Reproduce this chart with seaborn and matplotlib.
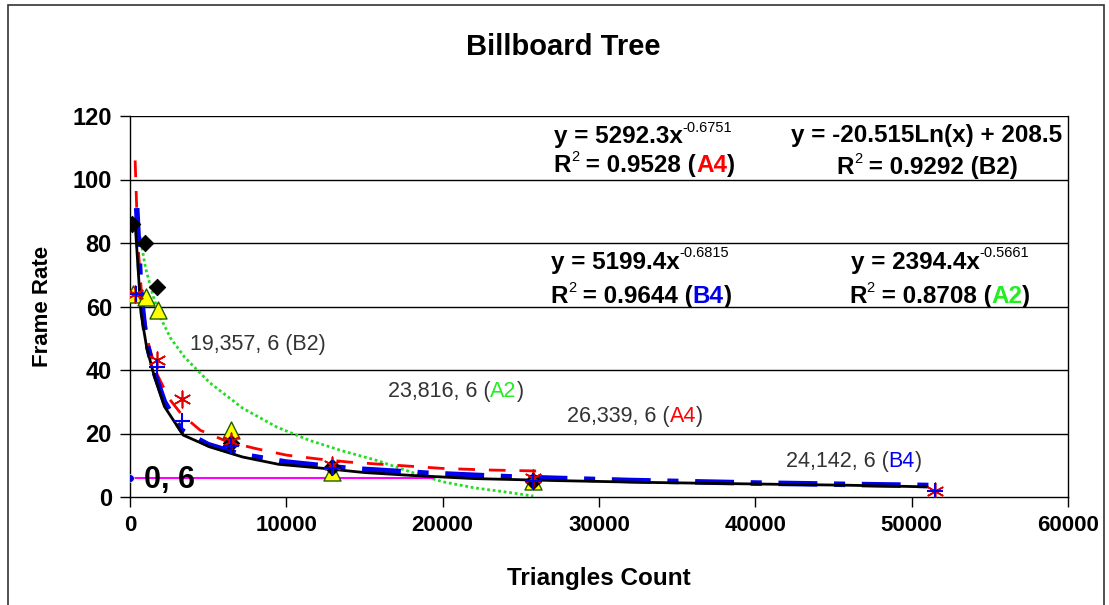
import matplotlib
matplotlib.use("Agg")
import matplotlib.pyplot as plt
import seaborn as sns
import pandas as pd
from matplotlib.patches import Rectangle

# ---------------- data ----------------
b2_x = [150, 960, 1700, 6450, 12900, 25800]
b2_y = [86, 80, 66, 17, 9.5, 5]
a2_x = [200, 1000, 1800, 6450, 12900, 25800]
a2_y = [64, 63, 59, 21, 8, 5]
a4_x = [300, 1720, 3300, 6450, 12900, 25800, 51500]
a4_y = [64, 43, 31, 17.5, 10, 6, 2]
b4_x = [400, 1720, 3300, 6450, 12900, 25800, 51500]
b4_y = [64, 41, 24, 16, 9, 5, 2]

# trend lines
fit_a4_x = [330, 500, 800, 1200, 1700, 2500, 3300, 4500, 6200, 8000, 10000, 12000,
            14000, 17000, 20000, 23000, 26000]
fit_a4_y = [106, 80, 60, 48, 39, 31, 26, 21, 17.5, 15.3, 13.2, 12, 11, 10, 9, 8.5, 8.2]
fit_b4_x = [430, 700, 1000, 1500, 2200, 3300, 5000, 7000, 10000, 14000, 19000, 25000,
            32000, 40000, 47000, 51500]
fit_b4_y = [91, 64, 50, 40, 30, 21, 16.5, 13.5, 11, 9, 7.5, 6.2, 5.2, 4.4, 3.9, 3.6]
fit_b2_x = [320, 700, 1070, 1500, 2200, 3400, 5100, 7200, 9500, 12000, 15000, 18000,
            22000, 27000, 33000, 40000, 46000, 51000]
fit_b2_y = [87, 58, 47, 39, 28.5, 19.5, 15.8, 12.6, 10.3, 9.2, 7.7, 6.8, 5.8, 5.2,
            4.6, 4.1, 3.7, 3.2]
fit_a2_x = [640, 1000, 1500, 1900, 2600, 3500, 5100, 7200, 9400, 11500, 13600, 15800,
            18000, 20000, 22000, 24000, 25800]
fit_a2_y = [82, 72, 63, 57, 50, 44, 36, 28, 22, 17.8, 14.5, 11.5, 7.8, 4.8, 2.9,
            1.6, 0.3]

thr_x = [0, 19357]
thr_y = [6, 6]

x_ticks = [0, 10000, 20000, 30000, 40000, 50000, 60000]
y_ticks = [0, 20, 40, 60, 80, 100, 120]

title = "Billboard Tree"
x_label = "Triangles Count"
y_label = "Frame Rate"

# ---------------- figure ----------------
sns.set_theme(style="white")
plt.rcParams["font.family"] = ["Liberation Sans", "DejaVu Sans"]
plt.rcParams["text.color"] = "black"
plt.rcParams["axes.labelcolor"] = "black"
plt.rcParams["xtick.color"] = "black"
plt.rcParams["ytick.color"] = "black"

W, H = 1109, 605
fig = plt.figure(figsize=(W / 100, H / 100), dpi=100)
fig.patch.set_facecolor("white")
ax = fig.add_axes([130 / W, 1 - 497 / H, (1068 - 130) / W, (497 - 116) / H])
ax.set_facecolor("white")

fig.patches.append(Rectangle((8 / W, -0.05), (1104 - 8) / W, 1.05 - 5 / H,
                             transform=fig.transFigure, fill=False,
                             edgecolor="#333333", lw=1.2, clip_on=False))

for yv in y_ticks[1:]:
    ax.axhline(yv, color="black", lw=1, zorder=0)


def line(xs, ys, **kw):
    df = pd.DataFrame({"x": xs, "y": ys})
    sns.lineplot(data=df, x="x", y="y", ax=ax, sort=False, estimator=None, **kw)


def pts(xs, ys, **kw):
    df = pd.DataFrame({"x": xs, "y": ys})
    sns.scatterplot(data=df, x="x", y="y", ax=ax, **kw)


line(fit_a2_x, fit_a2_y, color="#22dd22", lw=2, linestyle=(0, (1, 1)), zorder=2)
line(fit_a4_x, fit_a4_y, color="red", lw=2, linestyle=(0, (6, 5)), zorder=3)
line(fit_b4_x, fit_b4_y, color="#0000ee", lw=4, linestyle=(0, (7, 3, 2, 3)), zorder=3)
line(fit_b2_x, fit_b2_y, color="black", lw=2, zorder=4)
line(thr_x, thr_y, color="#ff00ff", lw=1.5, zorder=3)

pts(a2_x, a2_y, marker="^", s=150, color="#ffff00", edgecolor="#1f5c00", linewidth=1,
    zorder=5)
pts(b2_x, b2_y, marker="D", s=70, color="black", edgecolor="black", zorder=6)
pts(a4_x, a4_y, marker=(6, 2, 0), s=140, color="#e00000", linewidth=1.2, zorder=6)
pts(b4_x, b4_y, marker="+", s=140, color="#0000ee", linewidth=1.5, zorder=6)
pts([0], [6], marker="o", s=30, color="#0000cc", zorder=7)

ax.set_xlim(0, 60000)
ax.set_ylim(0, 120)
ax.set_xticks(x_ticks)
ax.set_yticks(y_ticks)
ax.set_xticklabels([str(v) for v in x_ticks], fontsize=16, fontweight="bold")
ax.set_yticklabels([str(v) for v in y_ticks], fontsize=17, fontweight="bold")
ax.tick_params(axis="both", direction="out", length=7, width=1, color="black",
               labelcolor="black", bottom=True, left=True, pad=6)
for s in ["left", "bottom", "right"]:
    ax.spines[s].set_visible(True)
    ax.spines[s].set_color("black")
    ax.spines[s].set_linewidth(1)
ax.spines["top"].set_visible(False)
ax.set_xlabel(x_label, fontsize=17.5, fontweight="bold", labelpad=22, color="black")
ax.set_ylabel(y_label, fontsize=16, fontweight="bold", labelpad=14, color="black")
fig.text(0.508, 1 - 47 / H, title, ha="center", va="center", fontsize=21,
         fontweight="bold", color="black")


def chain(x, y, parts):
    """parts: list of (text, color, size, weight, sup)"""
    base = None
    prev = None
    for txt, col, size, wt, sup in parts:
        if base is None:
            t = ax.text(x, y, txt, color=col, fontsize=size, fontweight=wt,
                        ha="left", va="center", zorder=8)
            base = t
        elif sup:
            t = ax.annotate(txt, xy=(1, 0.58), xycoords=(prev, base), color=col,
                            fontsize=size, fontweight=wt, ha="left", va="bottom",
                            zorder=8)
        else:
            t = ax.annotate(txt, xy=(1, 0), xycoords=(prev, base), color=col,
                            fontsize=size, fontweight=wt, ha="left", va="bottom",
                            zorder=8)
        prev = t


EQ = 17.5
SUP = 10.5
chain(27100, 113.5, [("y = 5292.3x", "black", EQ, "bold", False),
                     ("-0.6751", "black", SUP, "normal", True)])
chain(27100, 104.3, [("R", "black", EQ, "bold", False), ("2", "black", SUP, "normal", True),
                     (" = 0.9528 (", "black", EQ, "bold", False),
                     ("A4", "red", EQ, "bold", False), (")", "black", EQ, "bold", False)])
chain(42300, 113.8, [("y = -20.515Ln(x) + 208.5", "black", EQ, "bold", False)])
chain(45200, 103.7, [("R", "black", EQ, "bold", False), ("2", "black", SUP, "normal", True),
                     (" = 0.9292 (B2)", "black", EQ, "bold", False)])
chain(26900, 74, [("y = 5199.4x", "black", EQ, "bold", False),
                  ("-0.6815", "black", SUP, "normal", True)])
chain(26900, 63, [("R", "black", EQ, "bold", False), ("2", "black", SUP, "normal", True),
                  (" = 0.9644 (", "black", EQ, "bold", False),
                  ("B4", "#0000ee", EQ, "bold", False), (")", "black", EQ, "bold", False)])
chain(46100, 74, [("y = 2394.4x", "black", EQ, "bold", False),
                  ("-0.5661", "black", SUP, "normal", True)])
chain(46000, 63, [("R", "black", EQ, "bold", False), ("2", "black", SUP, "normal", True),
                  (" = 0.8708 (", "black", EQ, "bold", False),
                  ("A2", "#22ee22", EQ, "bold", False), (")", "black", EQ, "bold", False)])

LBL = 15.5
GRAY = "#333333"
chain(3830, 47.9, [("19,357, 6 (B2)", GRAY, LBL, "normal", False)])
chain(16480, 33.3, [("23,816, 6 (", GRAY, LBL, "normal", False),
                    ("A2", "#22ee22", LBL, "normal", False), (")", GRAY, LBL, "normal", False)])
chain(27970, 25.5, [("26,339, 6 (", GRAY, LBL, "normal", False),
                    ("A4", "red", LBL, "normal", False), (")", GRAY, LBL, "normal", False)])
chain(41950, 11.3, [("24,142, 6 (", GRAY, LBL, "normal", False),
                    ("B4", "#0000ee", LBL, "normal", False), (")", GRAY, LBL, "normal", False)])

ax.text(900, 5.3, "0, 6", fontsize=22, fontweight="bold", color="black",
        ha="left", va="center", zorder=8)

fig.savefig("out.png", dpi=100, facecolor="white")
